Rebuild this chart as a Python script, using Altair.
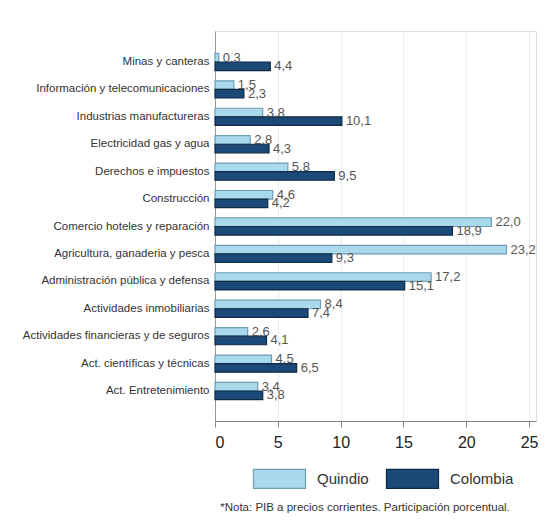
import altair as alt
import pandas as pd

categories = [
    "Minas y canteras",
    "Información y telecomunicaciones",
    "Industrias manufactureras",
    "Electricidad gas y agua",
    "Derechos e impuestos",
    "Construcción",
    "Comercio hoteles y reparación",
    "Agricultura, ganaderia y pesca",
    "Administración pública y defensa",
    "Actividades inmobiliarias",
    "Actividades financieras y de seguros",
    "Act. científicas y técnicas",
    "Act. Entretenimiento",
]
quindio = [0.3, 1.5, 3.8, 2.8, 5.8, 4.6, 22.0, 23.2, 17.2, 8.4, 2.6, 4.5, 3.4]
colombia = [4.4, 2.3, 10.1, 4.3, 9.5, 4.2, 18.9, 9.3, 15.1, 7.4, 4.1, 6.5, 3.8]
series = ["Quindio", "Colombia"]
x_ticks = [0, 5, 10, 15, 20, 25]
note = ["*Nota: PIB a precios corrientes. Participación porcentual."]

rows = []
for c, q, co in zip(categories, quindio, colombia):
    rows.append({"cat": c, "serie": series[0], "valor": q})
    rows.append({"cat": c, "serie": series[1], "valor": co})
df = pd.DataFrame(rows)

FONT = "Liberation Sans Narrow, Arial Narrow, Liberation Sans, sans-serif"
fills = ["#a9d9ea", "#1b4a78"]
strokes = ["#6f9db4", "#0f2a44"]

y_enc = alt.Y("cat:N", sort=categories, title=None,
              scale=alt.Scale(paddingInner=0, paddingOuter=0.612, align=0.515),
              axis=alt.Axis(ticks=False, labelFontSize=11.5, labelColor="#333333",
                            labelFont=FONT, labelPadding=6, domainColor="#999999",
                            labelLimit=300))
yoff = alt.YOffset("serie:N", sort=series,
                   scale=alt.Scale(paddingInner=0, paddingOuter=0.6))
x_enc = alt.X("valor:Q", title=None,
              scale=alt.Scale(domain=[0, 25.55], nice=False),
              axis=alt.Axis(values=x_ticks, tickSize=6, labelFontSize=16,
                            labelFont=FONT, labelColor="#222222",
                            domainColor="#888888", tickColor="#888888",
                            gridColor="#e2eef3", labelPadding=7))

base = alt.Chart(df)

bars = base.mark_bar(strokeWidth=1.2).encode(
    x=x_enc,
    y=y_enc,
    yOffset=yoff,
    fill=alt.Fill("serie:N", sort=series, title=None,
                  scale=alt.Scale(domain=series, range=fills),
                  legend=alt.Legend(orient="none", legendX=54, legendY=437,
                                    direction="horizontal",
                                    symbolType="M-2.74,-1H2.74V1H-2.74Z",
                                    symbolSize=361, symbolStrokeWidth=1.2,
                                    labelFontSize=15, labelFont=FONT,
                                    labelColor="#333333", labelOffset=27,
                                    columnPadding=15, padding=0)),
    stroke=alt.Stroke("serie:N", sort=series, title=None,
                      scale=alt.Scale(domain=series, range=strokes)),
)

labels = base.transform_calculate(
    lab="replace(format(datum.valor, '.1f'), '.', ',')"
).mark_text(align="left", baseline="middle", dx=4, fontSize=13, font=FONT,
            color="#555555").encode(
    x=alt.X("valor:Q"),
    y=alt.Y("cat:N", sort=categories),
    yOffset=alt.YOffset("serie:N", sort=series),
    text="lab:N",
)

note_layer = alt.Chart(pd.DataFrame({"t": note})).mark_text(
    align="center", baseline="middle", fontSize=11.5, font=FONT, color="#333333"
).encode(x=alt.value(150), y=alt.value(477), text="t:N")

chart = alt.layer(bars, labels, note_layer).properties(
    width=321, height=390,
    autosize=alt.AutoSizeParams(type="none"),
    padding={"left": 207, "top": 23, "right": 2, "bottom": 95},
).configure_view(stroke=None).configure(background="white")

chart.save("out.html", embed_options={"renderer": "svg", "actions": False})
